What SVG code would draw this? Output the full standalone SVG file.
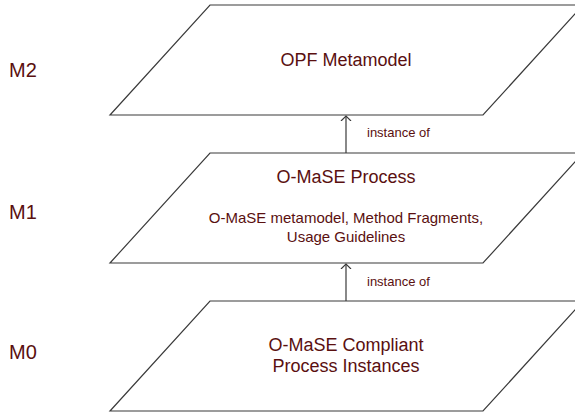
<svg xmlns="http://www.w3.org/2000/svg" width="575" height="413" viewBox="0 0 575 413">
<defs>
<style>
.shape{fill:#ffffff;stroke:#3a3a3a;stroke-width:1.2}
.conn{stroke:#3a3a3a;stroke-width:1.2;fill:none}
text{font-family:"Liberation Sans",Arial,sans-serif;fill:#5a1010}
.title{font-size:18px;text-anchor:middle}
.sub{font-size:15px;text-anchor:middle}
.lbl{font-size:13px}
.lvl{font-size:20px}
</style>
<marker id="open" markerWidth="10" markerHeight="12" refX="5" refY="5" orient="auto" markerUnits="userSpaceOnUse" viewBox="0 0 10 10">
<path d="M0,0 L5,5 L0,10" fill="none" stroke="#3a3a3a" stroke-width="1.2"/>
</marker>
</defs>
<rect width="575" height="413" fill="#ffffff"/>
<g id="level-labels">
<text class="lvl" x="9" y="77">M2</text>
<text class="lvl" x="9" y="219">M1</text>
<text class="lvl" x="9" y="359">M0</text>
</g>
<g id="opf-metamodel">
<polygon class="shape" points="210,5 583,5 483,115 110,115"/>
<text class="title" x="346" y="66">OPF Metamodel</text>
</g>
<g id="omase-process">
<polygon class="shape" points="210,153 583,153 483,263 110,263"/>
<text class="title" x="346" y="183">O-MaSE Process</text>
<text class="sub" x="346" y="223">O-MaSE metamodel, Method Fragments,</text>
<text class="sub" x="346" y="242">Usage Guidelines</text>
</g>
<g id="omase-instances">
<polygon class="shape" points="210,301 583,301 483,411 110,411"/>
<text class="title" x="346" y="351">O-MaSE Compliant</text>
<text class="title" x="346" y="372">Process Instances</text>
</g>
<g id="connectors">
<line class="conn" x1="346" y1="153" x2="346" y2="116" marker-end="url(#open)"/>
<text class="lbl" x="367" y="137">instance of</text>
<line class="conn" x1="346" y1="301" x2="346" y2="264" marker-end="url(#open)"/>
<text class="lbl" x="367" y="286">instance of</text>
</g>
</svg>
